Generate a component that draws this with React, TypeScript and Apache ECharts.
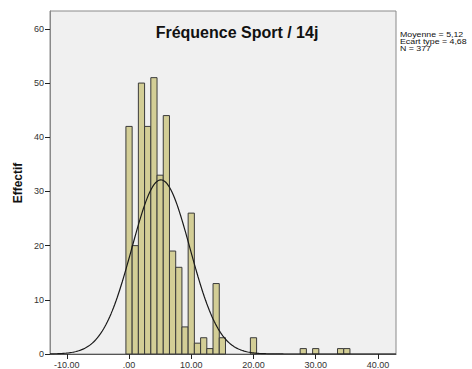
import React, { useEffect, useRef } from "react";
import * as echarts from "echarts";

// Histogram bins (width 1) centered at these values
const binCenters = [0, 1, 2, 3, 4, 5, 6, 7, 8, 9, 10, 11, 12, 13, 14, 15, 20, 28, 30, 34, 35];
const counts = [42, 20, 50, 42, 51, 33, 44, 19, 16, 5, 26, 2, 3, 1, 13, 3, 3, 1, 1, 1, 1];
const binWidth = 1;

// Statistics shown on the chart
const mean = 5.12;
const stdDev = 4.68;
const nObs = 377;

const xTicks = [-10, 0, 10, 20, 30, 40];
const yTicks = [0, 10, 20, 30, 40, 50, 60];
const statLines = ["Moyenne = 5,12", "Ecart type = 4,68", "N = 377"];

const X_MIN = -12.7;
const X_MAX = 42.9;
const Y_MAX = 63.3;

function normalCurve(): number[][] {
  const pts: number[][] = [];
  const step = 0.2;
  for (let x = X_MIN; x <= X_MAX + 1e-9; x += step) {
    const z = (x - mean) / stdDev;
    const y = (nObs * binWidth * Math.exp(-0.5 * z * z)) / (stdDev * Math.sqrt(2 * Math.PI));
    pts.push([x, y]);
  }
  return pts;
}

export default function App() {
  const ref = useRef<HTMLDivElement>(null);
  useEffect(() => {
    if (!ref.current) return;
    const chart = echarts.init(ref.current, undefined, { renderer: "svg" });
    const font = "'Liberation Sans', Arial, sans-serif";
    chart.setOption({
      animation: false,
      backgroundColor: "#ffffff",
      textStyle: { fontFamily: font },
      grid: {
        left: 50,
        right: 76,
        top: 11,
        bottom: 15,
        show: true,
        backgroundColor: "#f0f0f0",
        borderColor: "#8a8a8a",
        borderWidth: 1,
      },
      xAxis: {
        type: "value",
        min: X_MIN,
        max: X_MAX,
        splitLine: { show: false },
        axisLine: { show: true, onZero: false, lineStyle: { color: "#555555", width: 1 } },
        axisTick: { show: true, length: 5, customValues: xTicks, lineStyle: { color: "#222222" } },
        axisLabel: {
          customValues: xTicks,
          color: "#333333",
          fontSize: 9,
          margin: 6,
          fontFamily: font,
          formatter: (v: number) => (v === 0 ? ".00" : v.toFixed(2)),
        },
      },
      yAxis: {
        type: "value",
        min: 0,
        max: Y_MAX,
        splitLine: { show: false },
        axisLine: { show: true, onZero: false, lineStyle: { color: "#8a8a8a" } },
        axisTick: { show: true, length: 5, customValues: yTicks, lineStyle: { color: "#222222" } },
        axisLabel: {
          customValues: yTicks,
          color: "#333333",
          fontSize: 9,
          margin: 6,
          fontFamily: font,
        },
      },
      series: [
        {
          type: "custom",
          data: binCenters.map((c, i) => [c, counts[i]]),
          renderItem: (params: any, api: any) => {
            const x = api.value(0);
            const y = api.value(1);
            const p0 = api.coord([x - binWidth / 2, y]);
            const p1 = api.coord([x + binWidth / 2, 0]);
            return {
              type: "rect",
              shape: { x: p0[0], y: p0[1], width: p1[0] - p0[0], height: p1[1] - p0[1] },
              style: { fill: "#d3ce96", stroke: "#3a3a3a", lineWidth: 1 },
            };
          },
          z: 2,
        },
        {
          type: "line",
          data: normalCurve(),
          showSymbol: false,
          smooth: false,
          lineStyle: { color: "#1a1a1a", width: 1.2 },
          z: 3,
        },
      ],
      graphic: [
        {
          type: "text",
          x: 237,
          y: 32,
          style: {
            text: "Fréquence Sport / 14j",
            font: `bold 16px ${font}`,
            fill: "#111111",
            align: "center",
            verticalAlign: "middle",
          },
        },
        {
          type: "text",
          x: 18,
          y: 183,
          rotation: Math.PI / 2,
          style: {
            text: "Effectif",
            font: `bold 12px ${font}`,
            fill: "#111111",
            align: "center",
            verticalAlign: "middle",
          },
        },
        ...statLines.map((t, i) => ({
          type: "text",
          x: 400,
          y: 30.5 + i * 7,
          scaleX: 1.1,
          style: {
            text: t,
            font: `8px ${font}`,
            fill: "#111111",
            align: "left",
            verticalAlign: "top",
          },
        })),
      ],
    });
    return () => chart.dispose();
  }, []);
  return (
    <div
      ref={ref}
      style={{ position: "fixed", left: 0, top: 0, width: 472, height: 369, background: "#fff" }}
    />
  );
}
